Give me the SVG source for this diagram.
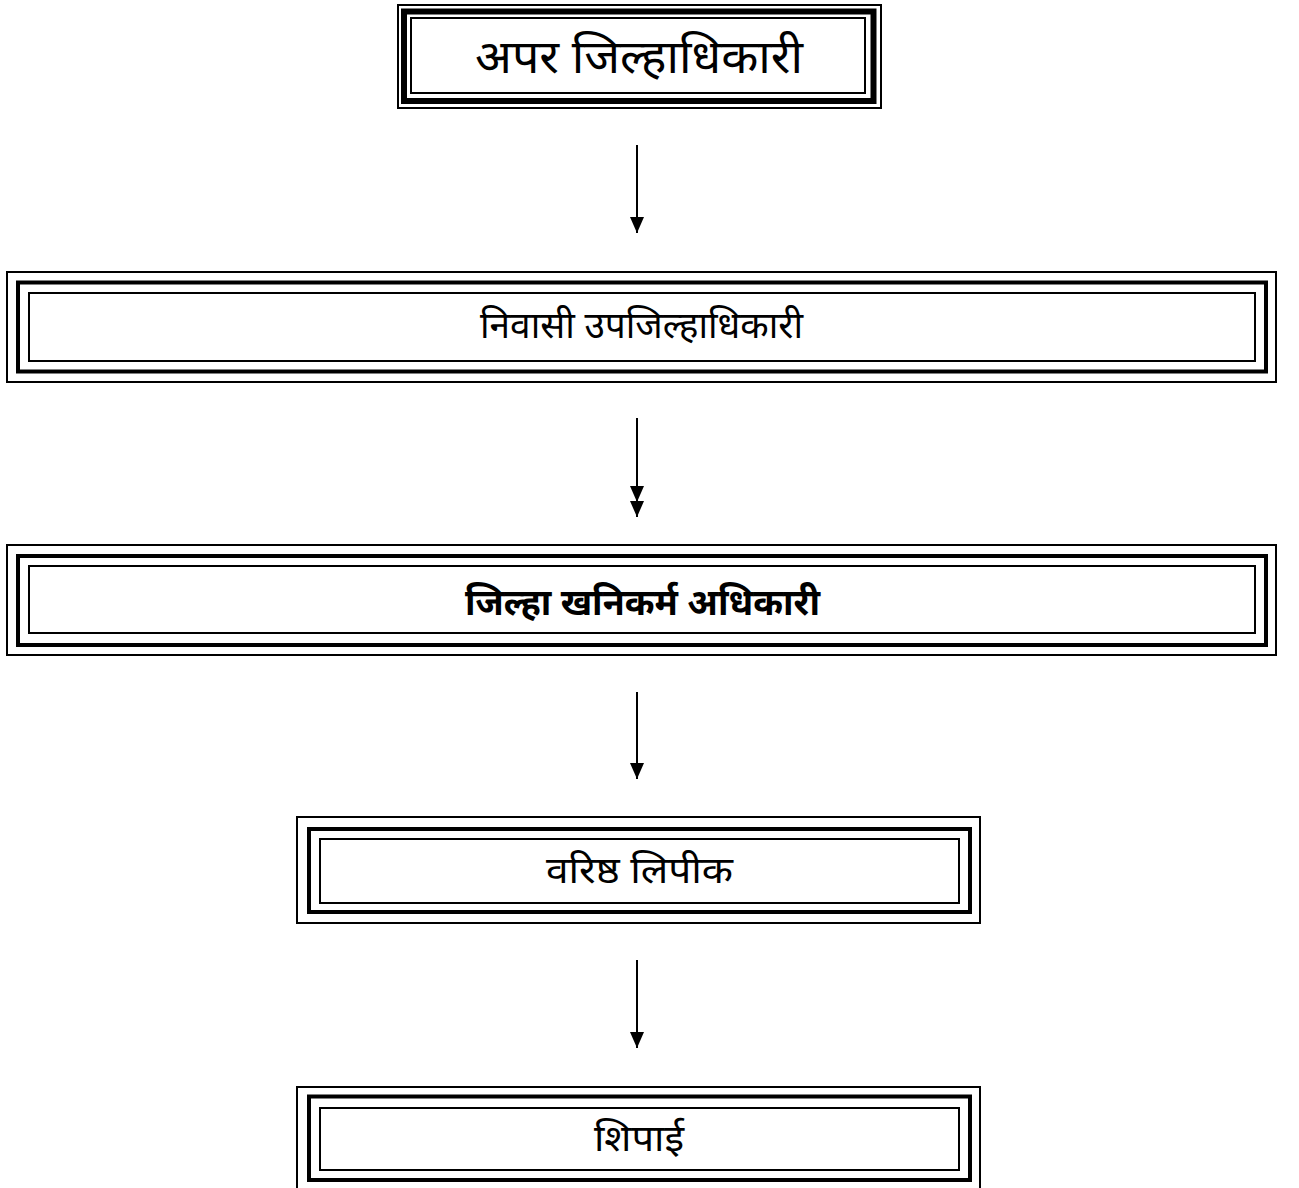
<svg xmlns="http://www.w3.org/2000/svg" width="1299" height="1188" viewBox="0 0 1299 1188">
<defs>
<style>
.o{fill:none;stroke:#000;stroke-width:2}
.t{fill:none;stroke:#000;stroke-width:4}
.i{fill:none;stroke:#000;stroke-width:2}
.lbl{font-family:"Noto Sans Devanagari","Lohit Devanagari","Mangal","Noto Sans","DejaVu Sans",sans-serif;fill:#000;text-anchor:middle}
.ln{stroke:#000;stroke-width:2;fill:none}
</style>
<marker id="ah" viewBox="0 0 16 14" refX="16" refY="7" markerWidth="16" markerHeight="14" markerUnits="userSpaceOnUse" orient="auto">
<path d="M0,0 L16,7 L0,14 Z" fill="#000"/>
</marker>
</defs>
<rect width="1299" height="1188" fill="#fff"/>
<g id="n1">
<rect class="o" x="398" y="5" width="483" height="103"/>
<rect x="404" y="11.5" width="469.5" height="89.5" fill="none" stroke="#000" stroke-width="6"/>
<rect class="i" x="411" y="18" width="454" height="75"/>
<text class="lbl" x="639" y="73" font-size="47" textLength="328" lengthAdjust="spacingAndGlyphs">अपर जिल्हाधिकारी</text>
</g>
<g id="n2">
<rect class="o" x="7" y="272" width="1269" height="110"/>
<rect class="t" x="18" y="282.5" width="1248" height="89"/>
<rect class="i" x="29" y="293" width="1226" height="68"/>
<text class="lbl" x="641.5" y="338" font-size="37" textLength="323" lengthAdjust="spacingAndGlyphs">निवासी उपजिल्हाधिकारी</text>
</g>
<g id="n3">
<rect class="o" x="7" y="545" width="1269" height="110"/>
<rect class="t" x="18" y="556" width="1248" height="89"/>
<rect class="i" x="29" y="566" width="1226" height="67"/>
<text class="lbl" x="642.5" y="615" font-size="37" font-weight="bold" textLength="355" lengthAdjust="spacingAndGlyphs">जिल्हा खनिकर्म अधिकारी</text>
</g>
<g id="n4">
<rect class="o" x="297" y="817" width="683" height="106"/>
<rect class="t" x="309" y="829" width="661" height="83"/>
<rect class="i" x="320" y="839" width="639" height="64"/>
<text class="lbl" x="639.5" y="883" font-size="37" textLength="187" lengthAdjust="spacingAndGlyphs">वरिष्ठ लिपीक</text>
</g>
<g id="n5">
<rect class="o" x="297" y="1087" width="683" height="106"/>
<rect class="t" x="309" y="1096.5" width="661" height="83.5"/>
<rect class="i" x="320" y="1108" width="639" height="62"/>
<text class="lbl" x="639" y="1151" font-size="37" textLength="90" lengthAdjust="spacingAndGlyphs">शिपाई</text>
</g>
<g id="connectors">
<line class="ln" x1="637" y1="145" x2="637" y2="233" marker-end="url(#ah)"/>
<line class="ln" x1="637" y1="418" x2="637" y2="502" marker-end="url(#ah)"/>
<line class="ln" x1="637" y1="500" x2="637" y2="517" marker-end="url(#ah)"/>
<line class="ln" x1="637" y1="692" x2="637" y2="779" marker-end="url(#ah)"/>
<line class="ln" x1="637" y1="960" x2="637" y2="1048" marker-end="url(#ah)"/>
</g>
</svg>
